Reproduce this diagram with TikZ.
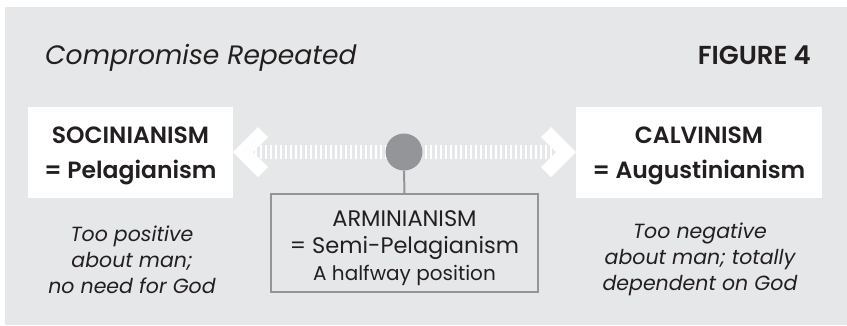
\documentclass[tikz,border=0pt]{standalone}
\usepackage{fontspec}
\setmainfont{Poppins}[BoldFont={Poppins SemiBold}]
\definecolor{bg}{HTML}{E6E7E8}
\definecolor{ink}{HTML}{231F20}
\definecolor{mid}{HTML}{939598}
\begin{document}
\begin{tikzpicture}[x=1pt,y=-1pt,
  every node/.style={text=ink, inner sep=0pt},
  whitebox/.style={fill=white, minimum height=91pt},
  headtxt/.style={font=\fontsize{23.5}{35}\selectfont\bfseries, align=center},
  armtxt/.style={font=\fontsize{22.5}{30}\selectfont},
  notetxt/.style={font=\fontsize{20.5}{26}\selectfont\itshape, align=center},
  chev/.style={fill=white, draw=none}]
\useasboundingbox (0,0) rectangle (847,325);
\fill[bg] (5,7) rectangle (847,325);
% title
\node[anchor=base west, font=\fontsize{26.6}{30}\selectfont\itshape] (title) at (45,64) {Compromise Repeated};
\node[anchor=base east, font=\fontsize{26}{30}\selectfont\bfseries] (fig) at (811,64) {FIGURE 4};
% dashed track
\coordinate (trL) at (255,152);
\coordinate (trR) at (553,152);
\draw[white, line width=14pt, dash pattern=on 2pt off 3pt] (trL) -- (trR);
% chevrons
\fill[chev] (233,152) -- (258,127) -- (268,137) -- (253,152) -- (268,167) -- (258,177) -- cycle;
\fill[chev] (576,152) -- (551,127) -- (541,137) -- (556,152) -- (541,167) -- (551,177) -- cycle;
% boxes
\node[whitebox, minimum width=205pt] (soc) at (130.5,152.5) {};
\node[headtxt] (socT) at (130.5,155.5) {SOCINIANISM\\= Pelagianism};
\node[whitebox, minimum width=246pt] (cal) at (699,152.5) {};
\node[headtxt] (calT) at (699,155.5) {CALVINISM\\= Augustinianism};
\node[draw=mid, line width=2pt, fill=bg, minimum width=267pt, minimum height=98pt] (arm) at (404.5,243) {};
\node[armtxt] (arm1) at (404.5,219) {ARMINIANISM};
\node[armtxt] (arm2) at (404.5,248) {= Semi-Pelagianism};
\node[font=\fontsize{20}{24}\selectfont] (arm3) at (404.5,275) {A halfway position};
% circle and stem
\node[circle, fill=mid, minimum size=37pt] (dot) at (404,152) {};
\draw[mid, line width=2pt] (dot.south) -- (arm.north);
% notes
\node[notetxt] (noteL) at (132,259.5) {Too positive\\about man;\\no need for God};
\node[notetxt] (noteR) at (700,259.5) {Too negative\\about man; totally\\dependent on God};
\end{tikzpicture}
\end{document}
